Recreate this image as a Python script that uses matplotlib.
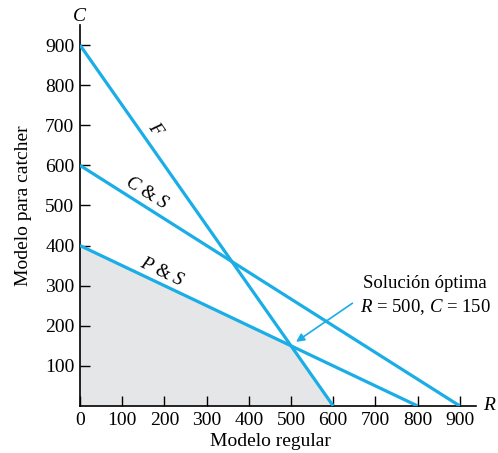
import matplotlib.pyplot as plt
import numpy as np

plt.rcParams["font.family"] = ["Liberation Serif", "DejaVu Serif"]
plt.rcParams["mathtext.fontset"] = "custom"
plt.rcParams["mathtext.rm"] = "Liberation Serif"
plt.rcParams["mathtext.it"] = "Liberation Serif:italic"

# constraint lines: (R intercept, C intercept)
line_names = ["$F$", "$C$ & $S$", "$P$ & $S$"]
r_intercepts = [600, 900, 800]
c_intercepts = [900, 600, 400]
feasible_r = [0, 0, 500, 600]
feasible_c = [0, 400, 150, 0]
optimum = (500, 150)
ticks = [0, 100, 200, 300, 400, 500, 600, 700, 800, 900]

blue = "#1aade6"

fig = plt.figure(figsize=(4.98, 4.53), dpi=100)
ax = fig.add_axes([0.1606, 0.1038, 0.795, 0.841])

ax.fill(feasible_r, feasible_c, color="#e5e6e8", lw=0, zorder=1)
for r0, c0 in zip(r_intercepts, c_intercepts):
    ax.plot([0, r0], [c0, 0], color=blue, lw=2.3, solid_capstyle="butt", zorder=3)

ax.text(178, 688, line_names[0], rotation=-55, fontsize=13.5, ha="center", va="center")
ax.text(159, 531, line_names[1], rotation=-32, fontsize=13.5, ha="center", va="center")
ax.text(194, 334, line_names[2], rotation=-25.5, fontsize=13.5, ha="center", va="center")

ax.annotate("Solución óptima\n$R$ = 500, $C$ = 150", xy=(512, 160), xytext=(818, 274),
            fontsize=13.5, ha="center", va="center", linespacing=1.3,
            arrowprops=dict(arrowstyle="-|>", color=blue, lw=1.2, mutation_scale=12,
                            shrinkA=4, shrinkB=0,
                            relpos=(0.0, 0.45)))

ax.set_xlim(0, 938)
ax.set_ylim(0, 950)
ax.set_xticks(ticks)
ax.set_yticks(ticks[1:])
ax.tick_params(direction="in", length=7, width=1, labelsize=14, pad=4)
for s in ["top", "right"]:
    ax.spines[s].set_visible(False)
for s in ["left", "bottom"]:
    ax.spines[s].set_linewidth(1.2)

ax.text(0, 972, "$C$", fontsize=14, ha="center", va="center", clip_on=False)
ax.text(970, 0, "$R$", fontsize=14, ha="center", va="center", clip_on=False)

ax.set_xlabel("Modelo regular", fontsize=14)
ax.xaxis.set_label_coords(0.48, -0.07)
ax.set_ylabel("Modelo para catcher", fontsize=14)
ax.yaxis.set_label_coords(-0.12, 0.525)

fig.savefig("out.png", dpi=100)
